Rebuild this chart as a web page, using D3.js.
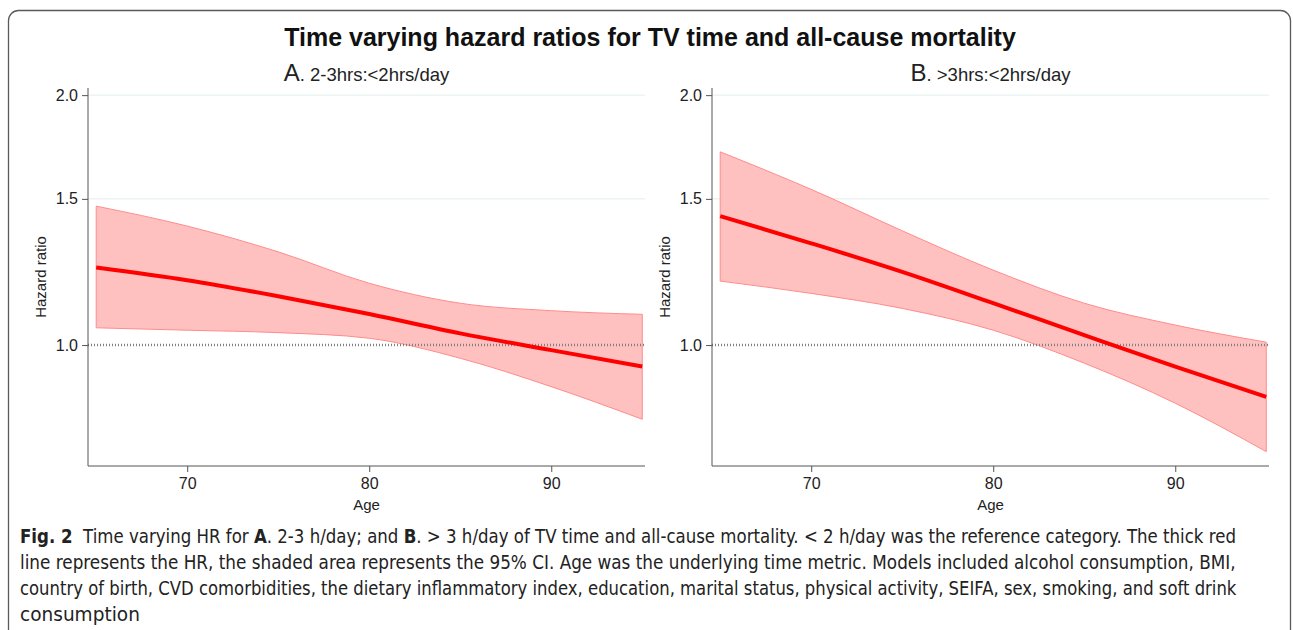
<!DOCTYPE html>
<html>
<head>
<meta charset="utf-8">
<script src="https://cdn.jsdelivr.net/npm/d3@7"></script>
<style>
  body { margin: 0; background: #fff; }
  svg { display: block; }
  .tick text { font-family: "Liberation Sans", Arial, sans-serif; font-size: 16px; fill: #222; }
</style>
</head>
<body>
<div id="container"></div>
<script>
// values (HR and 95% CI by age)
const ages = [65, 70, 75, 80, 85, 90, 95];
const hrA = [1.240, 1.197, 1.145, 1.090, 1.033, 0.986, 0.942];
const upperA = [1.470, 1.391, 1.295, 1.187, 1.123, 1.100, 1.089];
const lowerA = [1.049, 1.042, 1.035, 1.019, 0.964, 0.891, 0.814];
const hrB = [1.430, 1.326, 1.225, 1.123, 1.028, 0.942, 0.866];
const upperB = [1.709, 1.540, 1.373, 1.231, 1.123, 1.057, 1.008];
const lowerB = [1.194, 1.154, 1.107, 1.042, 0.951, 0.851, 0.744];
const xTicks = [70, 80, 90];
const yTicks = [1.0, 1.5, 2.0];

const title = "Time varying hazard ratios for TV time and all-cause mortality";
const panels = [
  { letter: "A", label: "2-3hrs:<2hrs/day", hr: hrA, upper: upperA, lower: lowerA, left: 88 },
  { letter: "B", label: ">3hrs:<2hrs/day", hr: hrB, upper: upperB, lower: lowerB, left: 712 }
];
const captionLines = [
  ["Fig. 2", "  Time varying HR for ", "A", ". 2-3 h/day; and ", "B", ". > 3 h/day of TV time and all-cause mortality. < 2 h/day was the reference category. The thick red"],
  ["", "line represents the HR, the shaded area represents the 95% CI. Age was the underlying time metric. Models included alcohol consumption, BMI,"],
  ["", "country of birth, CVD comorbidities, the dietary inflammatory index, education, marital status, physical activity, SEIFA, sex, smoking, and soft drink"],
  ["", "consumption"]
];
const captionWidths = [1217, 1217, 1217, 120];

const WIDTH = 1293;
const HEIGHT = 630;
const plotW = 557;
const plotTop = 88, plotBottom = 466;

let svg = d3.select("#container")
  .append("svg")
  .attr("width", WIDTH)
  .attr("height", HEIGHT);

// frame
svg.append("rect")
  .attr("x", 8.5).attr("y", 10.5)
  .attr("width", 1282).attr("height", 640)
  .attr("rx", 10)
  .attr("fill", "none")
  .attr("stroke", "#5a5a5a")
  .attr("stroke-width", 1.3);

svg.append("text")
  .attr("x", 650).attr("y", 46)
  .attr("text-anchor", "middle")
  .style("font-family", "'Liberation Sans', Arial, sans-serif")
  .style("font-weight", "bold")
  .style("font-size", "25px")
  .attr("fill", "#111")
  .text(title);

const y = d3.scaleLog().domain([0.715, 2.04]).range([plotBottom, plotTop]);

panels.forEach(p => {
  const x = d3.scaleLinear().domain([64.55, 95.15]).range([p.left, p.left + plotW]);
  const g = svg.append("g");

  // gridlines
  g.selectAll("line.grid")
    .data([1.5, 2.0])
    .enter().append("line")
    .attr("x1", p.left).attr("x2", p.left + plotW)
    .attr("y1", d => y(d)).attr("y2", d => y(d))
    .attr("stroke", "#e3eded").attr("stroke-width", 1);

  // CI band
  const pts = ages.map((a, i) => ({ a: a, hr: p.hr[i], lo: p.lower[i], up: p.upper[i] }));
  const area = d3.area()
    .x(d => x(d.a))
    .y0(d => y(d.lo))
    .y1(d => y(d.up))
    .curve(d3.curveMonotoneX);
  g.append("path")
    .attr("d", area(pts))
    .attr("fill", "#ffc0c0")
    .attr("stroke", "#ff8c8c")
    .attr("stroke-width", 1);

  // reference line at 1
  g.append("line")
    .attr("x1", p.left).attr("x2", p.left + plotW)
    .attr("y1", y(1)).attr("y2", y(1))
    .attr("stroke", "#808080").attr("stroke-width", 2.5)
    .attr("stroke-dasharray", "1,2");

  const line = d3.line()
    .x(d => x(d.a))
    .y(d => y(d.hr))
    .curve(d3.curveMonotoneX);
  g.append("path")
    .attr("d", line(pts))
    .attr("fill", "none")
    .attr("stroke", "#ff0000")
    .attr("stroke-width", 4);

  // axes
  const yAxis = g.append("g")
    .attr("transform", `translate(${p.left},0)`)
    .call(d3.axisLeft(y).tickValues(yTicks).tickFormat(d3.format(".1f")).tickSize(6).tickPadding(4));
  yAxis.select(".domain").attr("d", `M0,${plotTop}V${plotBottom}`);
  yAxis.selectAll("line, path").attr("stroke", "#555");

  const xAxis = g.append("g")
    .attr("transform", `translate(0,${plotBottom})`)
    .call(d3.axisBottom(x).tickValues(xTicks).tickSize(6).tickPadding(6));
  xAxis.select(".domain").attr("d", `M${p.left},0H${p.left + plotW}`);
  xAxis.selectAll("line, path").attr("stroke", "#555");

  g.append("text")
    .attr("x", p.left + plotW / 2).attr("y", 510)
    .attr("text-anchor", "middle")
    .style("font-family", "'Liberation Sans', Arial, sans-serif")
    .style("font-size", "15px")
    .attr("fill", "#222")
    .text("Age");

  g.append("text")
    .attr("transform", `translate(${p.left - 42},${(plotTop + plotBottom) / 2}) rotate(-90)`)
    .attr("text-anchor", "middle")
    .style("font-family", "'Liberation Sans', Arial, sans-serif")
    .style("font-size", "15px")
    .attr("fill", "#222")
    .text("Hazard ratio");

  const sub = g.append("text")
    .attr("x", p.left + plotW / 2).attr("y", 81)
    .attr("text-anchor", "middle")
    .style("font-family", "'Liberation Sans', Arial, sans-serif")
    .attr("fill", "#222");
  sub.append("tspan").style("font-size", "24px").text(p.letter);
  sub.append("tspan").style("font-size", "18.5px").text(". " + p.label);
});

// caption: narrow the natural text with a horizontal scale so each line fills its width
const cap = svg.append("g")
  .style("font-family", "'DejaVu Sans', sans-serif")
  .style("font-size", "19px")
  .attr("fill", "#222");

captionLines.forEach((parts, li) => {
  const t = cap.append("text")
    .attr("x", 0).attr("y", 0)
    .attr("xml:space", "preserve");
  parts.forEach((s, i) => {
    if (!s) return;
    const bold = (li === 0 && (i === 0 || i === 2 || i === 4));
    t.append("tspan")
      .style("font-weight", bold ? "bold" : "normal")
      .text(s);
  });
  const natural = t.node().getComputedTextLength();
  const k = captionWidths[li] / natural;
  t.attr("transform", `translate(20,${543 + li * 26}) scale(${k},1)`);
});
</script>
</body>
</html>
